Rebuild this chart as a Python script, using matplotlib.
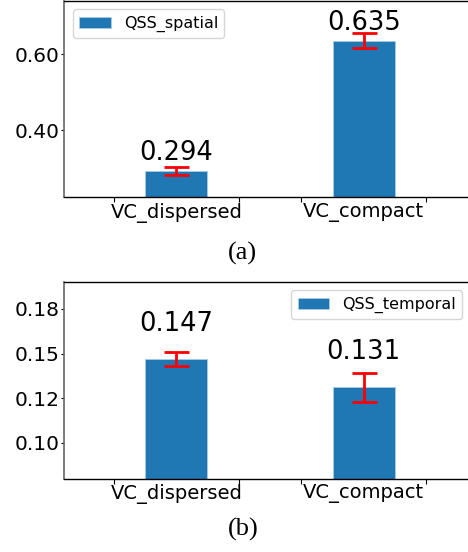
import numpy as np
import matplotlib
matplotlib.use("Agg")
import matplotlib.pyplot as plt
from matplotlib.ticker import FixedLocator

# QSS scores per virtual-cluster layout
categories = ["VC_dispersed", "VC_compact"]

spatial_mean = [0.294, 0.635]
spatial_err = [0.011, 0.020]

temporal_mean = [0.147, 0.131]
temporal_err = [0.0037, 0.0083]

spatial_yticks = [0.40, 0.60]
spatial_yticklabels = ["0.40", "0.60"]
temporal_yticks = [0.100, 0.125, 0.150, 0.175]
temporal_yticklabels = ["0.10", "0.12", "0.15", "0.18"]

BLUE = "#1f77b4"


def draw_panel(ax, means, errs, label, ylim, yticks, yticklabels,
               legend_loc, legend_anchor, text_pad):
    x = np.arange(len(categories))
    width = 0.33
    ax.bar(x, means, width, color=BLUE, edgecolor="#a9cbe3", linewidth=0.6, label=label)
    ax.errorbar(x, means, yerr=errs, fmt="none", ecolor="red", elinewidth=2,
                capsize=9, capthick=2)
    for xi, v in zip(x, means):
        ax.text(xi, v + text_pad, f"{v:.3f}", ha="center", va="baseline", fontsize=18.5)

    ax.set_xlim(-0.6, 1.6)
    ax.set_ylim(*ylim)
    ax.set_xticks(x)
    ax.set_xticklabels(categories, fontsize=14)
    ax.tick_params(axis="x", which="major", length=0, pad=4)
    ax.xaxis.set_minor_locator(FixedLocator(np.concatenate([x - 1 / 3, x + 1 / 3])))
    ax.tick_params(axis="x", which="minor", length=3.5, width=0.8)
    ax.set_yticks(yticks)
    ax.set_yticklabels(yticklabels, fontsize=14.5)
    ax.tick_params(axis="y", length=2.5, width=0.8, pad=1)

    for side in ["top", "bottom", "right"]:
        ax.spines[side].set_color("black")
        ax.spines[side].set_linewidth(1.0)
    ax.spines["left"].set_color("#666666")
    ax.spines["left"].set_linewidth(1.2)

    ax.legend(loc=legend_loc, bbox_to_anchor=legend_anchor,
              bbox_transform=ax.figure.transFigure, borderaxespad=0, fontsize=11.5)


fig = plt.figure(figsize=(4.68, 5.52), dpi=100)

ax_a = fig.add_axes([64 / 468, 0.643, 412 / 468, 0.355])
draw_panel(ax_a, spatial_mean, spatial_err, "QSS_spatial", (0.225, 0.739),
           spatial_yticks, spatial_yticklabels, "upper left", (0.155, 0.983), 0.027)

ax_b = fig.add_axes([64 / 468, 0.133, 412 / 468, 0.356])
draw_panel(ax_b, temporal_mean, temporal_err, "QSS_temporal", (0.080, 0.190),
           temporal_yticks, temporal_yticklabels, "upper right", (0.988, 0.474), 0.0157)

fig.text(0.519, 1 - 253 / 552, "(a)", ha="center", va="center",
         family="Liberation Serif", fontsize=19)
fig.text(0.519, 1 - 529 / 552, "(b)", ha="center", va="center",
         family="Liberation Serif", fontsize=19)

fig.savefig("out.png", dpi=100)
